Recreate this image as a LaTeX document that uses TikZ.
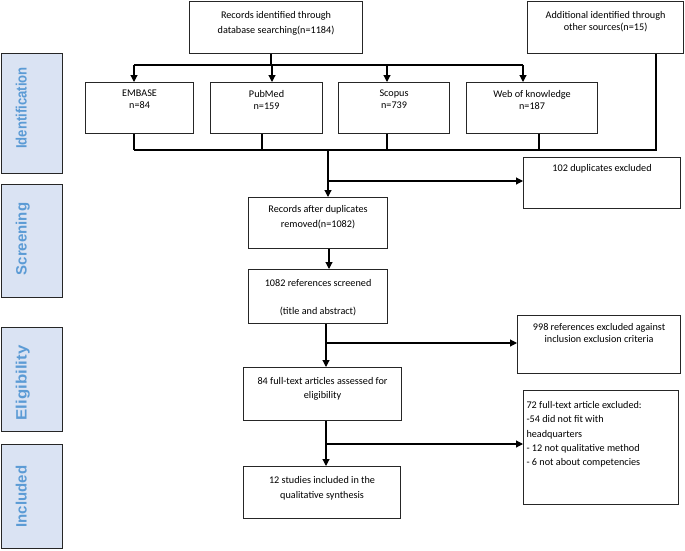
\documentclass[tikz,border=0pt]{standalone}
\usepackage{fontspec}
\setmainfont{Carlito}
\newfontfamily\lblfont{Liberation Sans}
\usetikzlibrary{arrows.meta}
\definecolor{lblfill}{HTML}{DAE3F3}
\definecolor{lbltext}{HTML}{5B9BD5}
\definecolor{edge}{HTML}{262626}
\newcommand{\ctb}[5]{\parbox[c][#2pt][t]{#1pt}{\vspace*{#3pt}\fontsize{10.2}{#4pt}\selectfont\centering #5\par}}
\newcommand{\ltb}[5]{\parbox[c][#2pt][t]{#1pt}{\vspace*{#3pt}\fontsize{10.2}{#4pt}\selectfont\raggedright #5\par}}
\tikzset{
 box/.style={draw=edge, line width=1.1pt, inner sep=0pt, anchor=north west, fill=white},
 lbl/.style={draw=edge, line width=1.3pt, fill=lblfill, inner sep=0pt, anchor=north west, minimum width=61},
 lbltxt/.style={rotate=90, anchor=base, text=lbltext, font={\lblfont\bfseries\fontsize{15}{18}\selectfont}, inner sep=0pt},
 conn/.style={line width=1.1pt, black},
 arr/.style={conn, -{Triangle[length=7pt,width=7pt]}},
}
\begin{document}
\begin{tikzpicture}[x=1pt,y=-1pt]
\useasboundingbox (0,0) rectangle (685,551);
% phase labels
\node[lbl, minimum height=120] (idbox) at (1,53) {};
\node[lbltxt] (idtxt) at (26.5,108) {\scalebox{0.875}[1]{Identification}};
\node[lbl, minimum height=113] (scbox) at (1,184) {};
\node[lbltxt] (sctxt) at (26.5,239) {Screening};
\node[lbl, minimum height=104] (elbox) at (1,327) {};
\node[lbltxt] (eltxt) at (26.5,383) {\scalebox{1.12}[1]{Eligibility}};
\node[lbl, minimum height=104] (inbox) at (1,444) {};
\node[lbltxt] (intxt) at (26.5,496.5) {Included};
% boxes
\node[box] (db) at (189,1) {\ctb{173}{52}{9.8}{15}{Records identified through\\database searching(n=1184)}};
\node[box] (other) at (527,1) {\ctb{156}{52}{9.8}{12}{Additional identified through\\other sources(n=15)}};
\node[box] (embase) at (85,82) {\ctb{108}{51}{7.8}{12}{EMBASE\\n=84}};
\node[box] (pubmed) at (210,82) {\ctb{112}{51}{7.8}{12}{PubMed\\n=159}};
\node[box] (scopus) at (338,82) {\ctb{111}{51}{7.8}{12}{Scopus\\n=739}};
\node[box] (web) at (466,82) {\ctb{131}{51}{7.8}{12}{Web of knowledge\\n=187}};
\node[box] (dup) at (523,157) {\ctb{157}{51}{6.8}{12}{102 duplicates excluded}};
\node[box] (after) at (248,197) {\ctb{139}{51}{7.8}{15}{Records after duplicates\\removed(n=1082)}};
\node[box] (screened) at (248,269) {\ctb{139}{54}{9.8}{28}{1082 references screened\\(title and abstract)}};
\node[box] (crit) at (517,315) {\ctb{163}{58}{7.8}{12.5}{998 references excluded against\\inclusion exclusion criteria}};
\node[box] (assess) at (243,367) {\ctb{158}{53}{9.8}{14}{84 full-text articles assessed for\\eligibility}};
\node[box] (incl) at (243,466) {\ctb{157}{52}{9.8}{15}{12 studies included in the\\qualitative synthesis}};
\node[box, inner xsep=3pt] (ft) at (523,390) {\ltb{149}{114}{10.8}{14.3}{72 full-text article excluded:\\-54 did not fit with\\headquarters\\- 12 not qualitative method\\- 6 not about competencies}};
% top distribution
\coordinate (s0) at (271,65);
\coordinate (aE) at (134,65);
\coordinate (aP) at (272,65);
\coordinate (aS) at (387,65);
\coordinate (aW) at (523,65);
\draw[conn] (db.south -| s0) -- (s0);
\draw[conn] (aE) -- (aW);
\draw[arr] (aE) -- (aE |- embase.north);
\draw[arr] (aP) -- (aP |- pubmed.north);
\draw[arr] (aS) -- (aS |- scopus.north);
\draw[arr] (aW) -- (aW |- web.north);
% collection bar
\coordinate (cE) at (134,150);
\coordinate (cP) at (262,150);
\coordinate (cS) at (387,150);
\coordinate (cW) at (539,150);
\coordinate (cO) at (656,150);
\coordinate (cM) at (328,150);
\draw[conn] (cE |- embase.south) -- (cE);
\draw[conn] (cP |- pubmed.south) -- (cP);
\draw[conn] (cS |- scopus.south) -- (cS);
\draw[conn] (cW |- web.south) -- (cW);
\draw[conn] (cO |- other.south) -- (cO) -- (cE);
\draw[arr] (cM) -- (cM |- after.north);
\coordinate (j1) at (328,181);
\draw[arr] (j1) -- (j1 -| dup.west);
\coordinate (c2) at (329,0);
\draw[arr] (c2 |- after.south) -- (c2 |- screened.north);
\coordinate (c3) at (326,343);
\draw[arr] (c3 |- screened.south) -- (c3 |- assess.north);
\draw[arr] (c3) -- (c3 -| crit.west);
\coordinate (c4) at (326,444);
\draw[arr] (c4 |- assess.south) -- (c4 |- incl.north);
\draw[arr] (c4) -- (c4 -| ft.west);
\end{tikzpicture}
\end{document}
